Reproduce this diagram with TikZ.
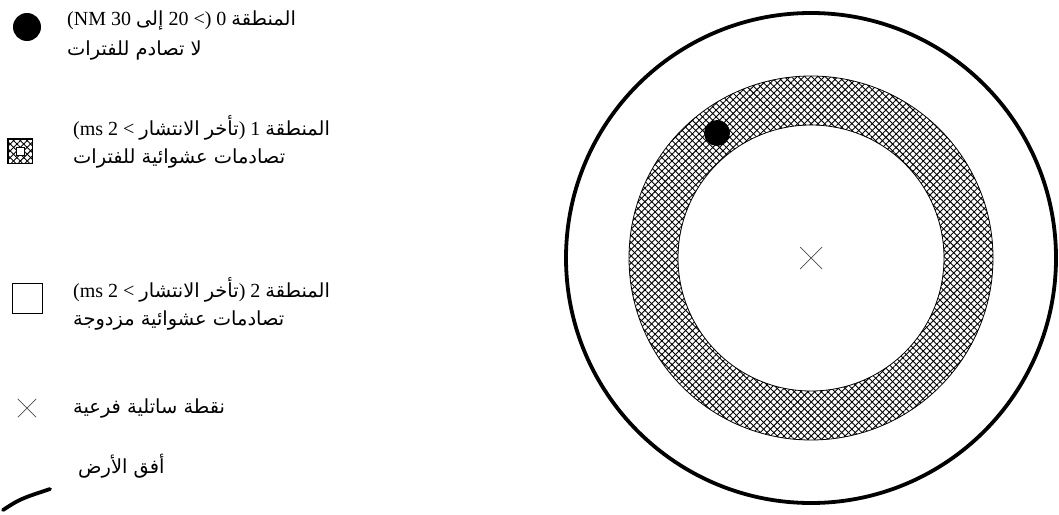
\documentclass[tikz,border=0pt]{standalone}
\usepackage{fontspec}
\setmainfont{Liberation Serif}
\newfontfamily\ar[Script=Arabic,Scale=0.97]{DejaVu Sans}
\TeXXeTstate=1
\usetikzlibrary{patterns.meta}
\newcommand{\AR}[1]{{\ar\beginR #1\endR}}
\tikzset{
  legtext/.style={anchor=west, inner sep=0pt, font=\fontsize{20}{24}\selectfont},
  hatchA/.style={pattern={Lines[angle=45,distance=4.8pt,line width=0.9pt]}},
  hatchB/.style={pattern={Lines[angle=-45,distance=4.8pt,line width=0.9pt]}},
}
\begin{document}
\begin{tikzpicture}[x=1pt,y=-1pt]
\useasboundingbox (0,0) rectangle (1059,514);
% main diagram
\coordinate (c) at (811,258);
\fill[hatchA, even odd rule] (c) circle[radius=182] (c) circle[radius=133];
\fill[hatchB, even odd rule] (c) circle[radius=182] (c) circle[radius=133];
\draw[line width=0.8pt] (c) circle[radius=182];
\draw[line width=0.8pt] (c) circle[radius=133];
\draw[line width=3.8pt] (c) circle[radius=245];
\node[circle, fill=black, minimum size=26pt, inner sep=0pt] (dot) at (717,133) {};
\draw[line width=0.7pt, gray!60!black] (800,247) -- (822,269) (800,269) -- (822,247);
\node[inner sep=0pt, minimum size=22pt] (sat) at (c) {};
% legend symbols
\node[circle, fill=black, minimum size=28pt, inner sep=0pt] (l0) at (27,27) {};
\node[draw, line width=0.6pt, minimum size=24pt, inner sep=0pt, hatchA] (l1) at (20,151) {};
\fill[hatchB] (l1.south west) rectangle (l1.north east);
\draw[line width=0.6pt] (l1.south west) rectangle (l1.north east);
\node[draw, fill=white, line width=0.6pt, minimum size=8pt, inner sep=0pt] (l1in) at (l1.center) {};
\node[draw, line width=0.8pt, minimum size=30pt, inner sep=0pt] (l2) at (27,298) {};
\node[inner sep=0pt, minimum size=18pt] (l3) at (27,408) {};
\draw[line width=0.7pt, gray!60!black] (l3.north west) -- (l3.south east) (l3.south west) -- (l3.north east);
\coordinate (h1) at (3,510);
\coordinate (h2) at (50,489);
\draw[line width=3.8pt, line cap=round] (h1) .. controls (20,499) .. (h2);
% legend texts
\node[legtext] (t0a) at (67,20) {(NM 30 \AR{إلى} 20 <) 0 \AR{المنطقة}};
\node[legtext] (t0b) at (67,50) {\AR{لا تصادم للفترات}};
\node[legtext] (t1a) at (73,128) {(ms 2 < \AR{الانتشار} \AR{تأخر}) 1 \AR{المنطقة}};
\node[legtext] (t1b) at (73,158) {\AR{تصادمات عشوائية للفترات}};
\node[legtext] (t2a) at (73,290) {(ms 2 < \AR{الانتشار} \AR{تأخر}) 2 \AR{المنطقة}};
\node[legtext] (t2b) at (73,320) {\AR{تصادمات عشوائية مزدوجة}};
\node[legtext] (t3) at (73,408) {\AR{نقطة ساتلية فرعية}};
\node[legtext] (t4) at (78,466) {\AR{أفق الأرض}};
\end{tikzpicture}
\end{document}
